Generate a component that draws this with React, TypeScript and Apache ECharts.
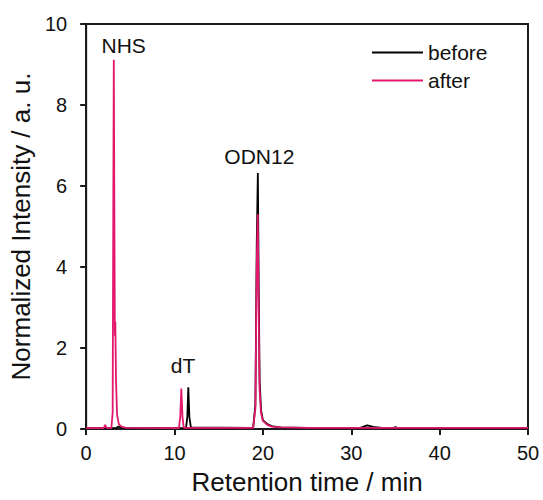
import React, { useEffect, useRef } from "react";
import * as echarts from "echarts";

// Retention time (min) vs normalized intensity (a. u.)
const beforeTrace: [number, number][] = [
  [0, 0.02], [3.4, 0.02], [3.6, 0.06], [4.0, 0.04], [4.5, 0.02],
  [11.3, 0.02], [11.45, 0.3], [11.56, 1.03], [11.68, 0.3], [11.85, 0.04],
  [18.9, 0.03], [19.15, 0.6], [19.3, 4.5], [19.43, 6.32], [19.53, 3.5], [19.63, 1.2],
  [19.8, 0.45], [20.0, 0.22], [20.5, 0.12], [21.0, 0.07], [22.0, 0.04], [25.0, 0.03],
  [31.0, 0.03], [31.8, 0.09], [32.5, 0.05], [33.5, 0.03], [34.8, 0.03], [35.0, 0.05],
  [35.2, 0.03], [50, 0.03],
];

const afterTrace: [number, number][] = [
  [0, 0.02], [2.0, 0.02], [2.15, 0.1], [2.3, 0.03], [2.85, 0.02], [3.0, 0.4],
  [3.08, 6.0], [3.13, 9.12], [3.2, 5.0], [3.25, 2.3], [3.3, 2.65], [3.38, 1.2],
  [3.5, 0.35], [3.7, 0.12], [4.0, 0.06], [4.5, 0.03],
  [10.5, 0.02], [10.65, 0.3], [10.77, 1.0], [10.9, 0.3], [11.05, 0.03],
  [18.9, 0.03], [19.15, 0.5], [19.3, 4.0], [19.42, 5.3], [19.52, 3.0], [19.62, 1.0],
  [19.78, 0.4], [20.0, 0.2], [20.5, 0.1], [21.0, 0.06], [22.0, 0.04], [25.0, 0.03],
  [50, 0.03],
];

const peakLabels: [number, number, string][] = [
  [4.25, 9.48, "NHS"],
  [10.96, 1.56, "dT"],
  [19.6, 6.74, "ODN12"],
];

const seriesNames = ["before", "after"];
const seriesColors = ["#000000", "#e3176c"];

const FONT = "'Liberation Sans', Arial, sans-serif";

export default function App() {
  const ref = useRef<HTMLDivElement>(null);
  useEffect(() => {
    if (!ref.current) return;
    const chart = echarts.init(ref.current, null, { renderer: "svg" });
    chart.setOption({
      animation: false,
      backgroundColor: "#ffffff",
      textStyle: { fontFamily: FONT },
      grid: {
        left: 82,
        right: 15,
        top: 24,
        bottom: 69,
        show: true,
        borderColor: "#1a1a1a",
        borderWidth: 2,
        backgroundColor: "transparent",
      },
      legend: {
        data: seriesNames.map((n) => ({ name: n, icon: "rect" })),
        orient: "vertical",
        left: 372,
        top: 42,
        padding: 0,
        itemWidth: 51,
        itemHeight: 2,
        itemGap: 7,
        textStyle: { fontSize: 21, color: "#111", fontFamily: FONT, lineHeight: 20 },
      },
      xAxis: {
        type: "value",
        min: 0,
        max: 50,
        interval: 10,
        name: "Retention time / min",
        nameLocation: "middle",
        nameGap: 40,
        nameTextStyle: { fontSize: 26, color: "#111", fontFamily: FONT },
        axisLine: { show: true, onZero: false, lineStyle: { color: "#1a1a1a", width: 2 } },
        axisTick: { show: true, inside: false, length: 6, lineStyle: { color: "#1a1a1a", width: 2 } },
        axisLabel: { fontSize: 20, color: "#111", margin: 14, fontFamily: FONT },
        splitLine: { show: false },
      },
      yAxis: {
        type: "value",
        min: 0,
        max: 10,
        interval: 2,
        name: "Normalized Intensity / a. u.",
        nameLocation: "middle",
        nameGap: 46,
        nameTextStyle: { fontSize: 26, color: "#111", fontFamily: FONT },
        axisLine: { show: true, lineStyle: { color: "#1a1a1a", width: 2 } },
        axisTick: { show: true, inside: false, length: 6, lineStyle: { color: "#1a1a1a", width: 2 } },
        axisLabel: { fontSize: 20, color: "#111", margin: 19, fontFamily: FONT },
        splitLine: { show: false },
      },
      series: [
        {
          name: seriesNames[0],
          type: "line",
          data: beforeTrace,
          showSymbol: false,
          symbol: "none",
          lineStyle: { color: seriesColors[0], width: 1.8 },
          itemStyle: { color: seriesColors[0] },
        },
        {
          name: seriesNames[1],
          type: "line",
          data: afterTrace,
          showSymbol: false,
          symbol: "none",
          lineStyle: { color: seriesColors[1], width: 1.8 },
          itemStyle: { color: seriesColors[1] },
        },
        {
          name: "labels",
          type: "scatter",
          silent: true,
          symbolSize: 0,
          itemStyle: { opacity: 1 },
          data: peakLabels,
          label: {
            show: true,
            position: "inside",
            formatter: (p: any) => p.data[2],
            fontSize: 21,
            color: "#111",
            textBorderWidth: 0,
            fontFamily: FONT,
          },
        },
      ],
    });
    return () => chart.dispose();
  }, []);
  return (
    <div
      ref={ref}
      style={{ position: "fixed", left: 0, top: 0, width: 543, height: 500 }}
    />
  );
}
